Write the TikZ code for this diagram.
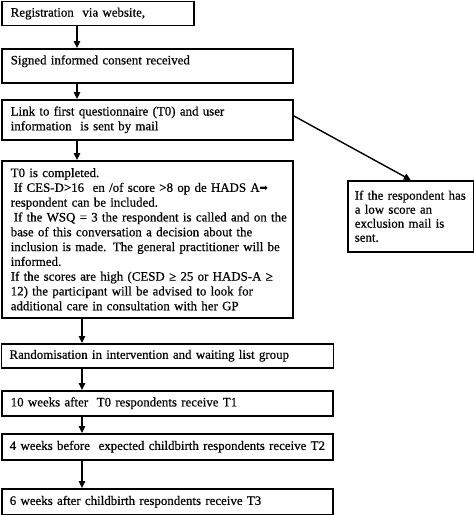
\documentclass[tikz,border=0pt]{standalone}
\usepackage{fontspec}
\setmainfont[FakeBold=0.5]{Liberation Serif}
\newfontfamily\symfont{DejaVu Sans}
\usetikzlibrary{arrows.meta,calc}
\begin{document}
\begin{tikzpicture}[x=1pt,y=1pt,
  box/.style={draw, line width=1.5pt, rectangle, anchor=north west, align=left,
    inner xsep=9pt, inner ysep=0pt, font=\fontsize{12.9}{14.8}\selectfont},
  arr/.style={line width=1.4pt, -{Triangle[length=7pt,width=6.5pt]}}]
\useasboundingbox (0,0) rectangle (474,-515);
% boxes
\node[box, minimum width=192pt, minimum height=24pt, text width=174pt] (b1) at (1,-0.8)
  {\mbox{Registration\ \ via website,}};
\node[box, minimum width=291pt, minimum height=34pt, text width=273pt] (b2) at (1,-48)
  {\mbox{Signed informed consent received}\\[-3pt]\mbox{}};
\node[box, minimum width=291pt, minimum height=40pt, text width=273pt] (b3) at (1,-99)
  {\mbox{Link to first questionnaire (T0) and user}\\\mbox{information\ \ is sent by mail}};
\node[box, minimum width=291pt, minimum height=157pt, text width=273pt] (b4) at (1,-160)
  {\mbox{T0 is completed.}\\
   \mbox{\hspace*{3pt}If CES-D>16\ \ en /of score >8 op de HADS A{\symfont\fontsize{10}{10}\selectfont ➡}}\\
   \mbox{respondent can be included.}\\
   \mbox{\hspace*{3pt}If the WSQ = 3 the respondent is called and on the}\\
   \mbox{base of this conversation a decision about the}\\
   \mbox{inclusion is made. The general practitioner will be}\\
   \mbox{informed.}\\
   \mbox{If the scores are high (CESD ≥ 25 or HADS-A ≥}\\
   \mbox{12) the participant will be advised to look for}\\
   \mbox{additional care in consultation with her GP}};
\node[box, minimum width=126pt, minimum height=71pt, text width=112pt, inner xsep=7pt,
  font=\fontsize{12.9}{14}\selectfont] (rb) at (347,-180)
  {\mbox{If the respondent has}\\\mbox{a low score an}\\\mbox{exclusion mail is}\\\mbox{sent.}};
\node[box, minimum width=332pt, minimum height=24pt, text width=316pt, inner xsep=8pt] (b5) at (0.8,-343)
  {\mbox{Randomisation in intervention and waiting list group}};
\node[box, minimum width=331pt, minimum height=25pt, text width=313pt] (b6) at (1,-390)
  {\mbox{10 weeks after\ \ T0 respondents receive T1}};
\node[box, minimum width=331pt, minimum height=26pt, text width=315pt, inner xsep=8pt] (b7) at (1,-433)
  {\mbox{4 weeks before\ \ expected childbirth respondents receive T2}};
\node[box, minimum width=331pt, minimum height=26pt, text width=315pt, inner xsep=8pt] (b8) at (1,-488)
  {\mbox{6 weeks after childbirth respondents receive T3}};
% arrow columns
\coordinate (ca) at (77,0);
\coordinate (cb) at (82,0);
\draw[arr] (b1.south -| ca) -- (b2.north -| ca);
\draw[arr] (b2.south -| ca) -- (b3.north -| ca);
\draw[arr] (b3.south -| ca) -- (b4.north -| ca);
\draw[arr] (b4.south -| cb) -- (b5.north -| cb);
\draw[arr] (b5.south -| cb) -- (b6.north -| cb);
\draw[arr] (b6.south -| cb) -- (b7.north -| cb);
\draw[arr] (b7.south -| cb) -- (b8.north -| cb);
\draw[arr] ($(b3.east)+(0,4)$) -- (rb.north);
\end{tikzpicture}
\end{document}
